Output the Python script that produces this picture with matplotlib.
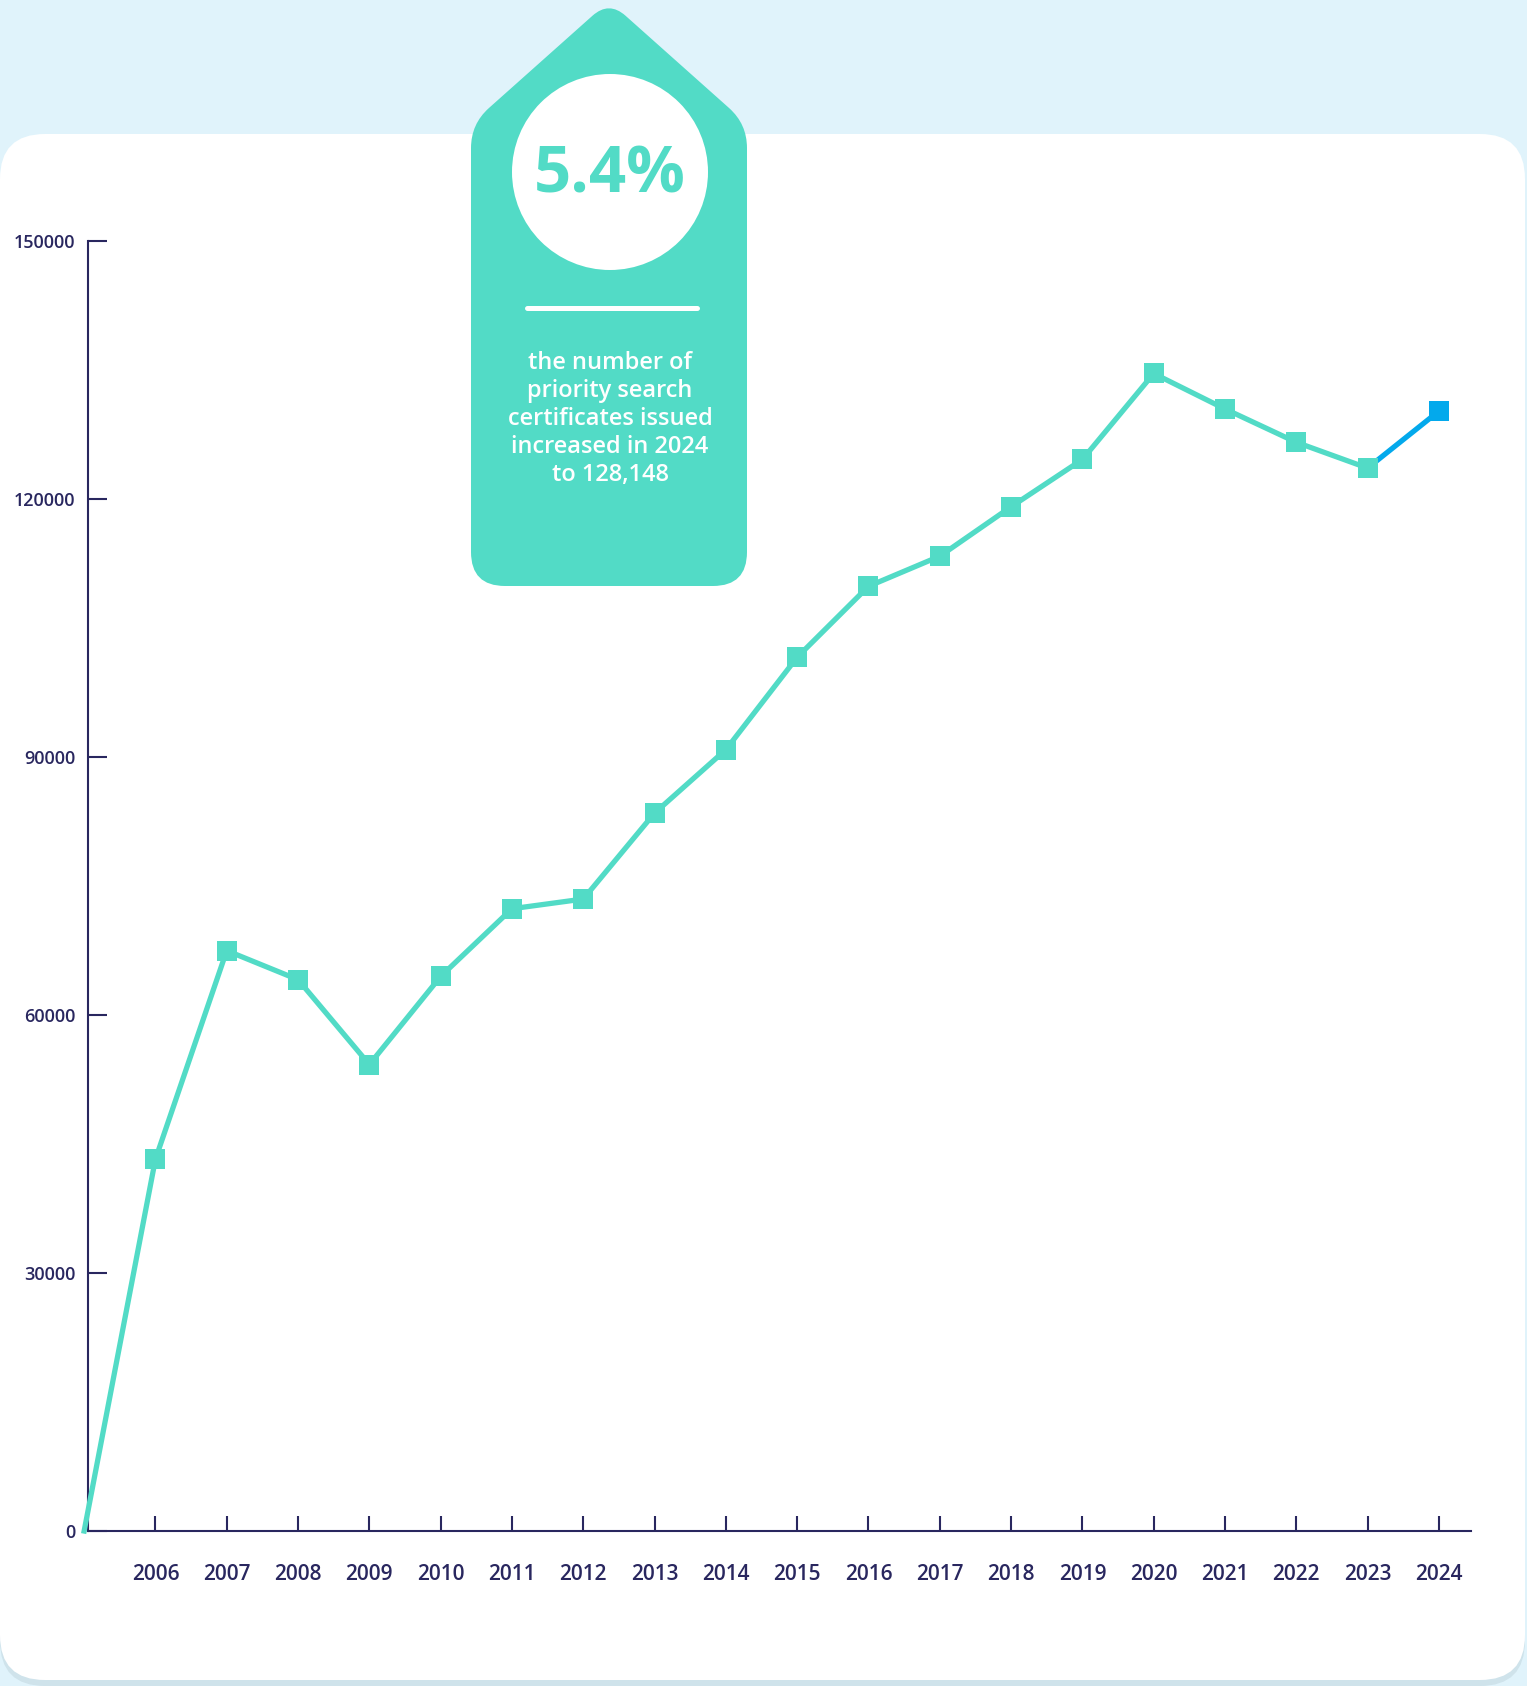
import numpy as np
import matplotlib.pyplot as plt
from matplotlib.path import Path
from matplotlib.patches import PathPatch, FancyBboxPatch, Circle

# ----------------------
# Data
# ----------------------
years = ["2006", "2007", "2008", "2009", "2010", "2011", "2012", "2013", "2014",
         "2015", "2016", "2017", "2018", "2019", "2020", "2021", "2022", "2023", "2024"]
certificates = [43250, 67500, 64125, 54250, 64500, 72375, 73500, 83500, 90875,
                101625, 109875, 113375, 119125, 124625, 134625, 130500, 126625,
                123625, 130250]
start_value = 0
y_ticks = [0, 30000, 60000, 90000, 120000, 150000]

badge_value = "5.4%"
badge_text = "the number of\npriority search\ncertificates issued\nincreased in 2024\nto 128,148"

TEAL = "#52dbc6"
BLUE = "#03a9ec"
NAVY = "#29275f"
SKY = "#e0f3fb"

plt.rcParams["font.family"] = ["Open Sans", "DejaVu Sans"]

W, H = 1527, 1686
fig = plt.figure(figsize=(W / 100, H / 100), dpi=100)
fig.patch.set_facecolor(SKY)

# background layer in pixel coords (y down)
bg = fig.add_axes([0, 0, 1, 1], zorder=0)
bg.set_xlim(0, W)
bg.set_ylim(H, 0)
bg.axis("off")

bg.add_patch(FancyBboxPatch((0, 140), 1525, 1546, boxstyle="round,pad=0,rounding_size=45",
                            fc="#cfe3eb", ec="none"))
bg.add_patch(FancyBboxPatch((0, 134), 1525, 1546, boxstyle="round,pad=0,rounding_size=45",
                            fc="white", ec="none"))


def rounded_poly(pts, radii):
    # closed polygon with quadratic-bezier rounded corners
    verts, codes = [], []
    n = len(pts)
    for i in range(n):
        p = np.array(pts[i], float)
        prev = np.array(pts[i - 1], float)
        nxt = np.array(pts[(i + 1) % n], float)
        r = radii[i]
        a = p + (prev - p) / np.linalg.norm(prev - p) * r
        b = p + (nxt - p) / np.linalg.norm(nxt - p) * r
        verts += [a, p, b]
        codes += [Path.MOVETO if i == 0 else Path.LINETO, Path.CURVE3, Path.CURVE3]
    verts.append(verts[0])
    codes.append(Path.CLOSEPOLY)
    return Path(verts, codes)


badge_pts = [(609, 1), (747, 124), (747, 586), (471, 586), (471, 124)]
bg.add_patch(PathPatch(rounded_poly(badge_pts, [22, 24, 34, 34, 24]), fc=TEAL, ec="none"))
bg.add_patch(Circle((610, 172), 98, fc="white", ec="none"))
bg.text(610, 176, badge_value, ha="center", va="center", fontsize=47,
        fontweight="bold", color=TEAL)
bg.plot([527, 697], [308, 308], color="white", lw=3.6, solid_capstyle="round")
bg.text(610, 419, badge_text, ha="center", va="center", fontsize=17,
        color="white", linespacing=1.23, fontweight="semibold")

# ----------------------
# Chart
# ----------------------
ax = fig.add_axes([87.7 / W, 1 - 1531 / H, (1471 - 87.7) / W, (1531 - 241.3) / H], zorder=2)
ax.set_facecolor("none")

x = np.arange(len(years) + 1)
y = [start_value] + certificates

ax.plot(x[:-1], y[:-1], color=TEAL, lw=3.8, zorder=3, clip_on=False)
ax.plot(x[-2:], y[-2:], color=BLUE, lw=3.8, zorder=2, clip_on=False)
ax.plot(x[1:-1], y[1:-1], ls="none", marker="s", ms=15, color=TEAL, mew=0, zorder=4, clip_on=False)
ax.plot(x[-1:], y[-1:], ls="none", marker="s", ms=15, color=BLUE, mew=0, zorder=4, clip_on=False)

ax.set_xlim(0.05, 19.45)
ax.set_ylim(0, 150000)
ax.set_xticks(x[1:])
ax.set_xticklabels(years, fontsize=15, color=NAVY, fontweight="semibold")
ax.set_yticks(y_ticks)
ax.set_yticklabels([str(v) for v in y_ticks], fontsize=13, color=NAVY, fontweight="semibold")
ax.tick_params(axis="x", direction="in", length=11, width=1.5, color=NAVY, pad=24)
ax.tick_params(axis="y", direction="in", length=14, width=1.5, color=NAVY, pad=9)

for s in ["top", "right"]:
    ax.spines[s].set_visible(False)
for s in ["left", "bottom"]:
    ax.spines[s].set_color(NAVY)
    ax.spines[s].set_linewidth(1.5)

plt.savefig("out.png", dpi=100, facecolor=fig.get_facecolor())
